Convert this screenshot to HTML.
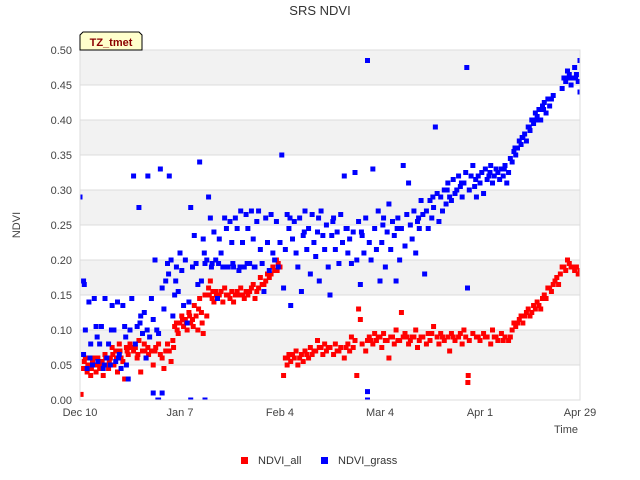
<!DOCTYPE html>
<html><head><meta charset="utf-8"><style>
html,body{margin:0;padding:0;background:#fff;}
svg{display:block;font-family:"Liberation Sans",sans-serif;}
</style></head><body>
<svg id="chart" width="640" height="480" viewBox="0 0 640 480">
<defs><clipPath id="plotclip"><rect x="80" y="50" width="500" height="350"/></clipPath></defs>
<text x="320" y="15" text-anchor="middle" font-size="13" fill="#333">SRS NDVI</text>
<g id="bands"></g>
<g id="grid"></g>
<g id="yticks" font-size="11" fill="#444"></g>
<g id="xticks" font-size="11" fill="#444"></g>
<text x="20" y="225" font-size="11" fill="#444" text-anchor="middle" transform="rotate(-90 20 225)">NDVI</text>
<text x="578" y="433" font-size="11" fill="#444" text-anchor="end">Time</text>
<g id="marks" clip-path="url(#plotclip)"></g>
<rect x="80" y="50" width="500" height="350" fill="none" stroke="#ddd" stroke-width="1"/>
<g>
<path d="M83,32 L139,32 L142,35 L142,50 L80,50 L80,35 Z" fill="#ffffcc" stroke="#000" stroke-width="1"/>
<text x="111" y="46" font-size="11" font-weight="bold" fill="#8b0000" text-anchor="middle">TZ_tmet</text>
</g>
<g font-size="11" fill="#333">
<rect x="241" y="457" width="7" height="7" fill="#f00"/>
<text x="258" y="464">NDVI_all</text>
<rect x="321" y="457" width="7" height="7" fill="#00f"/>
<text x="338" y="464">NDVI_grass</text>
</g>
</svg>
<script>
const yTicks=[0,0.05,0.10,0.15,0.20,0.25,0.30,0.35,0.40,0.45,0.50];
const xTickDays=[0,28,56,84,112,140];
const xTickLabels=["Dec 10","Jan 7","Feb 4","Mar 4","Apr 1","Apr 29"];
const redDays=[0.3,1,1.5,2,2.5,3,3.5,4,4.5,5,5.5,6,6.5,7,7.5,8,8.5,9,9.5,10,10.5,11,11.5,12,12.5,13,13.5,14,15,15.5,16,16.5,17,17.5,18,18.5,19,20,20.5,21,22,22.5,23,23.5,24,24.5,25,25.5,26,26.5,27,27.5,28,28.5,29,29.5,30,30.5,31,31.5,32,32.5,33,33.5,34,34.5,35,35.5,36,36.5,37,37.5,38,38.5,39,40,40.5,41,42,42.5,43,44,44.5,45,46,46.5,47,48,48.5,49,50,50.5,51,52,52.5,53,54,54.5,55,55.5,56,57,57.5,58,58.5,59,60,60.5,61,62,62.5,63,64,64.5,65,66,66.5,67,68,68.5,69,70,71,71.5,72,73,74,75,75.5,76,77,77.5,78,78.5,79,80,80.5,81,82,82.5,83,84,84.5,85,86,86.5,87,88,88.5,89,90,90.5,91,92,92.5,93,94,94.5,95,96,97,97.5,98,99,100,100.5,101,102,103,103.5,104,105,106,107,107.5,108,108.6,108.7,109,110,111,112,113,114,115,115.5,116,117,118,119,120,121,121.5,122,123,123.5,124,125,125.5,126,127,127.5,128,129,130,130.5,131,132,132.5,133,134,134.5,135,136,136.5,137,138,138.5,139,139.5,140,
1.2,2.2,3.2,4.2,5.2,6.2,7.2,8.2,9.2,10.2,11.2,13.2,14.2,16.2,18.2,19.2,21.2,26.2,27.2,28.7,29.7,30.7,31.7,33.2,34.2,36.2,37.2,38.2,39.5,41.5,43.5,45.5,47.5,49.5,51.5,53.5,55.2,58.2,59.5,61.5,63.5,65.5,67.5,69.5,72.5,74.5,76.5,81.5,83.5,85.5,87.5,89.5,91.5,93.5,95.5,98.5,101.5,104.5,106.5,111.5,113.5,116.5,118.5,120.5,122.5,124.5,126.5,128.5,129.5,131.5,133.5,135.5,137.5];
const redVals=[0.008,0.045,0.06,0.04,0.05,0.035,0.055,0.05,0.04,0.06,0.045,0.05,0.035,0.065,0.05,0.045,0.06,0.075,0.05,0.07,0.04,0.08,0.06,0.055,0.03,0.075,0.065,0.08,0.07,0.075,0.06,0.085,0.04,0.07,0.08,0.06,0.075,0.07,0.05,0.07,0.08,0.065,0.06,0.045,0.07,0.08,0.07,0.055,0.085,0.105,0.11,0.095,0.11,0.12,0.105,0.115,0.10,0.125,0.11,0.115,0.135,0.12,0.10,0.145,0.125,0.095,0.15,0.12,0.16,0.17,0.145,0.14,0.155,0.145,0.15,0.14,0.16,0.15,0.145,0.155,0.14,0.155,0.15,0.16,0.145,0.155,0.15,0.16,0.165,0.145,0.16,0.175,0.165,0.17,0.18,0.175,0.19,0.185,0.20,0.195,0.19,0.035,0.06,0.05,0.065,0.055,0.06,0.07,0.05,0.065,0.055,0.07,0.06,0.075,0.065,0.07,0.085,0.075,0.065,0.08,0.07,0.075,0.065,0.08,0.07,0.075,0.06,0.08,0.07,0.09,0.085,0.035,0.13,0.115,0.08,0.07,0.085,0.09,0.08,0.095,0.085,0.09,0.075,0.095,0.085,0.06,0.09,0.08,0.10,0.085,0.125,0.09,0.095,0.08,0.085,0.09,0.10,0.075,0.085,0.09,0.08,0.095,0.085,0.105,0.09,0.08,0.095,0.085,0.09,0.07,0.095,0.085,0.09,0.08,0.10,0.09,0.025,0.035,0.085,0.095,0.09,0.085,0.095,0.09,0.08,0.10,0.09,0.085,0.095,0.09,0.085,0.10,0.11,0.105,0.115,0.12,0.11,0.125,0.13,0.12,0.135,0.13,0.14,0.13,0.15,0.145,0.16,0.155,0.165,0.17,0.165,0.18,0.19,0.185,0.20,0.195,0.19,0.185,0.19,0.18,0.185,
0.055,0.05,0.045,0.06,0.05,0.055,0.06,0.055,0.065,0.06,0.07,0.07,0.075,0.065,0.07,0.065,0.075,0.075,0.10,0.115,0.11,0.12,0.105,0.13,0.11,0.15,0.155,0.15,0.155,0.15,0.15,0.15,0.155,0.155,0.165,0.18,0.185,0.06,0.065,0.06,0.065,0.07,0.075,0.075,0.07,0.075,0.075,0.085,0.09,0.085,0.09,0.085,0.09,0.09,0.09,0.095,0.09,0.09,0.095,0.09,0.09,0.09,0.085,0.09,0.11,0.12,0.125,0.135,0.145,0.16,0.175,0.19,0.19];
const blueDays=[0,1,1.2,1,1.5,2,2.5,3,3.5,4,4.5,5,5.5,6,6.5,7,7.5,8,8.5,9,9.5,10,10.5,11,11.5,12,12.5,13,13.5,14,14.5,15,15.5,16,16.5,17,17.5,18,18.5,19,19.5,20,20.5,21,21.5,22,22.5,23,23.5,24,24.5,25,25.5,26,26.5,27,27.5,28,28.5,29,29.5,30,30.5,31,31.5,32,32.5,33,33.5,34,34.5,35,35.5,36,36.5,37,37.5,38,38.5,39,39.5,40,40.5,41,41.5,42,42.5,43,43.5,44,44.5,45,45.5,46,46.5,47,47.5,48,48.5,49,49.5,50,50.5,51,51.5,52,52.5,53,53.5,54,54.5,55,55.5,56,56.5,57,57.5,58,58.5,59,59.5,60,60.5,61,61.5,62,62.5,63,63.5,64,64.5,65,65.5,66,66.5,67,67.5,68,68.5,69,69.5,70,70.5,71,71.5,72,72.5,73,73.5,74,74.5,75,75.5,76,76.5,77,77.5,78,78.5,79,79.5,80,80.5,80.5,81,81.5,82,82.5,83,83.5,84,84.5,85,85.5,86,86.5,87,87.5,88,88.5,89,89.5,90,90.5,91,91.5,92,92.5,93,93.5,94,94.5,95,95.5,96,96.5,97,97.5,98,98.5,99,99.5,100,100.5,101,101.5,102,102.5,103,103.5,104,104.5,105,105.5,106,106.5,107,107.5,108,108.3,108.5,109,109.5,110,110.5,111,111.5,112,112.5,113,113.5,114,114.5,115,115.5,116,116.5,117,117.5,118,118.5,119,119.5,120,120.5,121,121.5,122,122.5,123,123.5,124,124.5,125,125.5,126,126.5,127,127.5,128,128.5,129,129.5,130,130.5,131,131.5,132,132.5,135,135.5,136,136.5,137,137.5,138,138.5,139,139.5,140,140,21.8,22,31,35,80.5,20.5,23,
2.8,4.8,6.8,8.8,10.8,12.8,16.8,18.8,24.8,26.8,34.8,36.8,38.8,40.8,42.8,44.8,46.8,48.8,58.8,62.8,66.8,70.8,74.8,78.8,84.8,88.8,94.8,98.8,102.8,106.8,110.8,114.8,118.8,121.8,123.8,125.8,127.8,129.8,136.8,138.8];
const blueVals=[0.29,0.17,0.165,0.065,0.10,0.045,0.14,0.08,0.05,0.145,0.105,0.055,0.08,0.105,0.045,0.145,0.06,0.08,0.05,0.135,0.10,0.055,0.14,0.065,0.045,0.135,0.105,0.05,0.03,0.10,0.145,0.32,0.08,0.105,0.275,0.12,0.095,0.125,0.06,0.32,0.09,0.145,0.115,0.20,0.10,0.095,0.33,0.16,0.13,0.17,0.195,0.32,0.20,0.12,0.15,0.19,0.155,0.21,0.185,0.135,0.20,0.11,0.14,0.275,0.19,0.235,0.195,0.165,0.34,0.17,0.23,0.195,0.20,0.29,0.26,0.195,0.24,0.20,0.145,0.23,0.21,0.19,0.26,0.245,0.19,0.255,0.225,0.19,0.26,0.245,0.185,0.27,0.225,0.19,0.265,0.245,0.195,0.27,0.23,0.19,0.255,0.27,0.215,0.195,0.155,0.26,0.225,0.185,0.265,0.21,0.20,0.255,0.19,0.225,0.35,0.16,0.215,0.265,0.245,0.135,0.23,0.255,0.21,0.19,0.26,0.155,0.235,0.27,0.215,0.245,0.18,0.265,0.225,0.205,0.24,0.17,0.27,0.235,0.215,0.25,0.19,0.15,0.235,0.26,0.215,0.24,0.195,0.265,0.225,0.32,0.245,0.21,0.23,0.195,0.24,0.325,0.20,0.255,0.165,0.235,0.21,0.26,0.485,0.012,0.225,0.20,0.33,0.245,0.215,0.27,0.17,0.225,0.26,0.19,0.24,0.28,0.215,0.255,0.235,0.17,0.26,0.20,0.245,0.335,0.22,0.265,0.31,0.25,0.23,0.27,0.21,0.255,0.245,0.285,0.265,0.18,0.27,0.245,0.285,0.26,0.275,0.39,0.295,0.255,0.29,0.27,0.30,0.28,0.31,0.29,0.285,0.315,0.295,0.30,0.32,0.305,0.29,0.31,0.325,0.475,0.16,0.30,0.32,0.335,0.305,0.29,0.32,0.31,0.325,0.295,0.33,0.315,0.32,0.335,0.31,0.32,0.33,0.325,0.315,0.33,0.32,0.335,0.31,0.325,0.345,0.34,0.355,0.35,0.36,0.37,0.365,0.375,0.38,0.37,0.39,0.385,0.40,0.395,0.41,0.405,0.415,0.40,0.42,0.425,0.41,0.43,0.42,0.43,0.435,0.445,0.46,0.455,0.47,0.465,0.45,0.46,0.475,0.465,0.455,0.485,0.44,0.0,0.0,0.0,0.0,0.0,0.01,0.01,
0.06,0.09,0.05,0.10,0.06,0.09,0.11,0.10,0.18,0.17,0.21,0.19,0.195,0.19,0.195,0.19,0.195,0.19,0.26,0.24,0.26,0.255,0.245,0.24,0.25,0.245,0.26,0.29,0.30,0.31,0.315,0.325,0.33,0.36,0.375,0.39,0.40,0.415,0.46,0.46];

const NS="http://www.w3.org/2000/svg";
const X0=80,X1=580,Y0=400,Y1=50,DMAX=140,VMAX=0.5;
function xs(d){return X0+(d/DMAX)*(X1-X0);}
function ys(v){return Y0-(v/VMAX)*(Y0-Y1);}
function mk(tag,attrs,parent){const e=document.createElementNS(NS,tag);for(const k in attrs)e.setAttribute(k,attrs[k]);parent.appendChild(e);return e;}

const bands=document.getElementById('bands');
for(let i=0;i<yTicks.length-1;i++){
  if(i%2===1){
    const r=mk('rect',{x:X0,y:ys(yTicks[i+1]),width:X1-X0,height:ys(yTicks[i])-ys(yTicks[i+1]),fill:'#f2f2f2'},bands);
    
    
  }
}
const grid=document.getElementById('grid');
const yt=document.getElementById('yticks');
yTicks.forEach(v=>{
  const l=mk('line',{x1:X0,x2:X1,y1:ys(v),y2:ys(v),stroke:'#dcdcdc','stroke-width':1},grid);
  
  
  const t=mk('text',{x:72,y:ys(v)+4,'text-anchor':'end'},yt);
  t.textContent=v.toFixed(2);
  
  
});
const xt=document.getElementById('xticks');
xTickDays.forEach((d,i)=>{
  const t=mk('text',{x:xs(d),y:416,'text-anchor':'middle'},xt);
  t.textContent=xTickLabels[i];
  
  
});
const marks=document.getElementById('marks');
const gRed=mk('g',{fill:'#f00'},marks);


const gBlue=mk('g',{fill:'#00f'},marks);


function drawSeries(days,vals,g,name){
  const n=Math.min(days.length,vals.length);
  for(let i=0;i<n;i++){
    const r=mk('rect',{x:xs(days[i])-2.5,y:ys(vals[i])-2.5,width:5,height:5},g);
    
    
  }
}
drawSeries(redDays,redVals,gRed,'point-ndvi-all');
drawSeries(blueDays,blueVals,gBlue,'point-ndvi-grass');
</script>
</body></html>
